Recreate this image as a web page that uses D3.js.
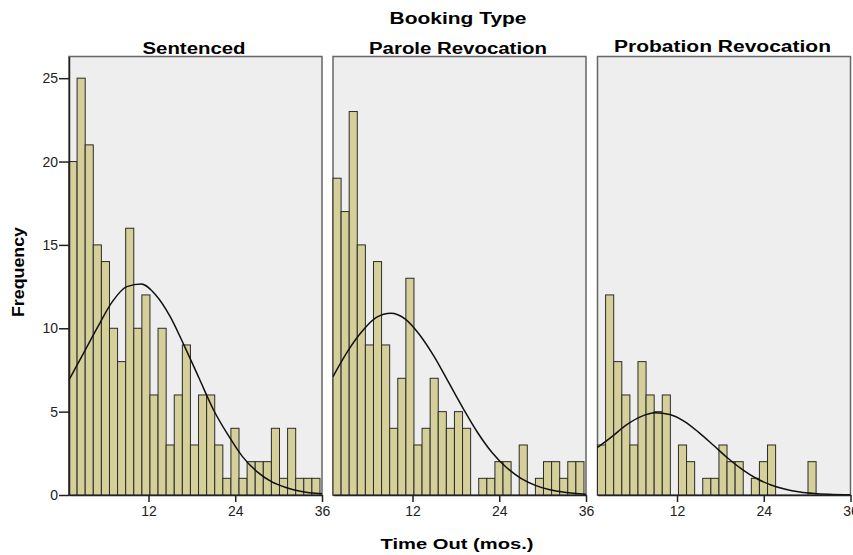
<!DOCTYPE html>
<html>
<head>
<meta charset="utf-8">
<script src="https://cdn.jsdelivr.net/npm/d3@7"></script>
<style>
  body { margin: 0; background: #fff; }
  text { font-family: "Liberation Sans", Arial, sans-serif; }
</style>
</head>
<body>
<script>
// panel names and bin counts
var panels = ["Sentenced", "Parole Revocation", "Probation Revocation"];
var binStart = 1;
var binWidth = 1.12;
var sentenced = [20,25,21,15,14,10,8,16,10,12,6,10,3,6,9,3,6,6,3,1,4,1,2,2,2,4,1,4,1,1,1];
var parole = [19,17,23,15,9,14,9,4,7,13,3,4,7,5,4,5,4,0,1,1,2,2,0,3,0,1,2,2,1,2,2];
var probation = [3,12,8,6,3,8,6,5,6,0,3,2,0,1,1,3,2,2,0,1,2,3,0,0,0,0,2,0,0,0,0];

// normal curve heights read at these months
var curveX = [1,3,5,7,9,11,13,15,17,19,21,23,25,27,29,31,33,36];
var sentencedCurve = [6.9,8.5,10.1,11.6,12.5,12.65,12.0,10.7,8.9,7.0,5.1,3.6,2.3,1.4,0.8,0.45,0.23,0.07];
var paroleCurve = [7.1,8.6,9.8,10.65,10.9,10.55,9.6,8.3,6.75,5.2,3.75,2.55,1.65,1.0,0.58,0.31,0.16,0.05];
var probationCurve = [2.85,3.5,4.2,4.7,4.93,4.83,4.42,3.76,3.0,2.22,1.54,0.99,0.6,0.34,0.18,0.09,0.04,0.01];

var xTicks = [12, 24, 36];
var yTicks = [0, 5, 10, 15, 20, 25];

var counts = [sentenced, parole, probation];
var curves = [sentencedCurve, paroleCurve, probationCurve];

var width = 853, height = 555;
var panelLeft = [69, 333, 597.5];
var panelW = 253;
var plotTop = 56.5, plotBottom = 495;

var svg = d3.select("body").append("svg")
    .attr("width", width)
    .attr("height", height);

var y = d3.scaleLinear().domain([0, 26.3]).range([plotBottom, plotTop]);

panels.forEach(function(name, i) {
  var x = d3.scaleLinear().domain([1, 36]).range([panelLeft[i], panelLeft[i] + panelW]);

  // panel background + frame
  svg.append("rect")
     .attr("x", panelLeft[i]).attr("y", plotTop)
     .attr("width", panelW).attr("height", plotBottom - plotTop)
     .attr("fill", "#eeeeee")
     .attr("stroke", "#666")
     .attr("stroke-width", 1.5);

  // bars
  var bins = counts[i].map(function(c, j) {
    return {x0: binStart + j * binWidth, x1: binStart + (j + 1) * binWidth, n: c};
  });
  svg.append("g")
     .selectAll("rect")
     .data(bins.filter(function(d) { return d.n > 0; }))
     .enter()
     .append("rect")
       .attr("x", function(d) { return x(d.x0); })
       .attr("y", function(d) { return y(d.n); })
       .attr("width", function(d) { return x(d.x1) - x(d.x0); })
       .attr("height", function(d) { return y(0) - y(d.n); })
       .attr("fill", "#d5cf9a")
       .attr("stroke", "#2b2b2b")
       .attr("stroke-width", 1);

  // normal curve
  var line = d3.line()
      .x(function(d, k) { return x(curveX[k]); })
      .y(function(d) { return y(d); })
      .curve(d3.curveMonotoneX);
  svg.append("path")
     .datum(curves[i])
     .attr("d", line)
     .attr("fill", "none")
     .attr("stroke", "#111")
     .attr("stroke-width", 1.5);

  // x axis
  var xAxis = svg.append("g")
     .attr("transform", "translate(0," + plotBottom + ")")
     .call(d3.axisBottom(x).tickValues(xTicks).tickSize(7).tickSizeOuter(0).tickPadding(4));
  xAxis.attr("font-size", null).attr("font-family", null);
  xAxis.select(".domain").attr("stroke", "#222").attr("stroke-width", 1.5);
  xAxis.selectAll(".tick line").attr("stroke", "#222").attr("stroke-width", 1.5);
  xAxis.selectAll("text").style("font-size", "14px").attr("fill", "#222");

  // panel title
  svg.append("text")
     .attr("x", panelLeft[i] + panelW / 2 - 1.5)
     .attr("y", [54, 53.5, 52][i])
     .attr("text-anchor", "middle")
     .style("font-size", "16px")
     .attr("font-weight", "bold")
     .attr("textLength", [103, 178, 217][i])
     .attr("lengthAdjust", "spacingAndGlyphs")
     .text(name);
});

// y axis on first panel
var yAxis = svg.append("g")
   .attr("transform", "translate(" + panelLeft[0] + ",0)")
   .call(d3.axisLeft(y).tickValues(yTicks).tickSize(10).tickSizeOuter(0).tickPadding(1));
yAxis.attr("font-size", null).attr("font-family", null);
yAxis.select(".domain").attr("stroke", "#222").attr("stroke-width", 1.5);
yAxis.selectAll(".tick line").attr("stroke", "#222").attr("stroke-width", 1.5);
yAxis.selectAll("text").style("font-size", "14px").attr("fill", "#222");

// titles
svg.append("text")
   .attr("x", 458).attr("y", 24)
   .attr("text-anchor", "middle")
   .style("font-size", "16px").attr("font-weight", "bold")
   .attr("textLength", 137).attr("lengthAdjust", "spacingAndGlyphs")
   .text("Booking Type");

svg.append("text")
   .attr("x", 457).attr("y", 549)
   .attr("text-anchor", "middle")
   .style("font-size", "15px").attr("font-weight", "bold")
   .attr("textLength", 153).attr("lengthAdjust", "spacingAndGlyphs")
   .text("Time Out (mos.)");

svg.append("text")
   .attr("transform", "translate(24,272) rotate(-90)")
   .attr("text-anchor", "middle")
   .style("font-size", "16px").attr("font-weight", "bold")
   .attr("textLength", 90).attr("lengthAdjust", "spacingAndGlyphs")
   .text("Frequency");
</script>
</body>
</html>
